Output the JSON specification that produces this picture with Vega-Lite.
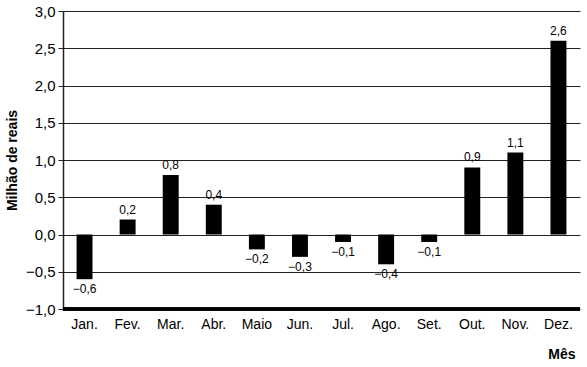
{
  "$schema": "https://vega.github.io/schema/vega-lite/v6.json",
  "width": 517,
  "height": 298,
  "autosize": "none",
  "padding": {"left": 63, "top": 11, "right": 7, "bottom": 58},
  "background": "white",
  "config": {
    "locale": {"number": {"decimal": ",", "thousands": ".", "grouping": [3], "currency": ["", ""], "minus": "−"}},
    "font": "Liberation Sans",
    "view": {"stroke": null}
  },
  "data": {
    "values": [
      {"mes": "Jan.", "valor": -0.6},
      {"mes": "Fev.", "valor": 0.2},
      {"mes": "Mar.", "valor": 0.8},
      {"mes": "Abr.", "valor": 0.4},
      {"mes": "Maio", "valor": -0.2},
      {"mes": "Jun.", "valor": -0.3},
      {"mes": "Jul.", "valor": -0.1},
      {"mes": "Ago.", "valor": -0.4},
      {"mes": "Set.", "valor": -0.1},
      {"mes": "Out.", "valor": 0.9},
      {"mes": "Nov.", "valor": 1.1},
      {"mes": "Dez.", "valor": 2.6}
    ]
  },
  "encoding": {
    "x": {
      "field": "mes", "type": "nominal", "sort": null,
      "scale": {"paddingInner": 0.63, "paddingOuter": 0.315},
      "axis": {
        "title": "Mês", "titleFontSize": 14, "titleFontWeight": "bold", "titleColor": "black",
        "titleAnchor": "end", "titleAlign": "right", "titleBaseline": "bottom", "titleX": 512, "titleY": 52,
        "labelAngle": 0, "labelFontSize": 14, "labelColor": "black", "labelPadding": 8,
        "ticks": false, "domain": false, "grid": false
      }
    },
    "y": {
      "field": "valor", "type": "quantitative",
      "scale": {"domain": [-1, 3], "nice": false},
      "axis": {
        "title": "Milhão de reais", "titleFontSize": 14, "titleFontWeight": "bold", "titleColor": "black",
        "titleX": -51, "titleY": 149, "titleBaseline": "middle", "titleAlign": "center", "titleAngle": -90,
        "values": [-1, -0.5, 0, 0.5, 1, 1.5, 2, 2.5, 3], "format": ".1f",
        "labelFontSize": 15, "labelColor": "black", "labelPadding": 3,
        "tickSize": 5, "tickColor": "#222", "domainColor": "#222", "domainWidth": 1.5,
        "grid": true, "gridColor": "#222", "gridWidth": 1.2, "gridOpacity": 1
      }
    }
  },
  "layer": [
    {"mark": {"type": "bar", "color": "black"}},
    {
      "mark": {"type": "rule", "color": "black", "strokeWidth": 2.5},
      "encoding": {"y": {"datum": -1}, "x": null}
    },
    {
      "transform": [{"filter": "datum.valor >= 0"}],
      "mark": {"type": "text", "baseline": "bottom", "dy": -3, "fontSize": 12, "color": "black"},
      "encoding": {"text": {"field": "valor", "type": "quantitative", "format": ".1f"}}
    },
    {
      "transform": [{"filter": "datum.valor < 0"}],
      "mark": {"type": "text", "baseline": "top", "dy": 5, "fontSize": 12, "color": "black"},
      "encoding": {"text": {"field": "valor", "type": "quantitative", "format": ".1f"}}
    }
  ]
}
